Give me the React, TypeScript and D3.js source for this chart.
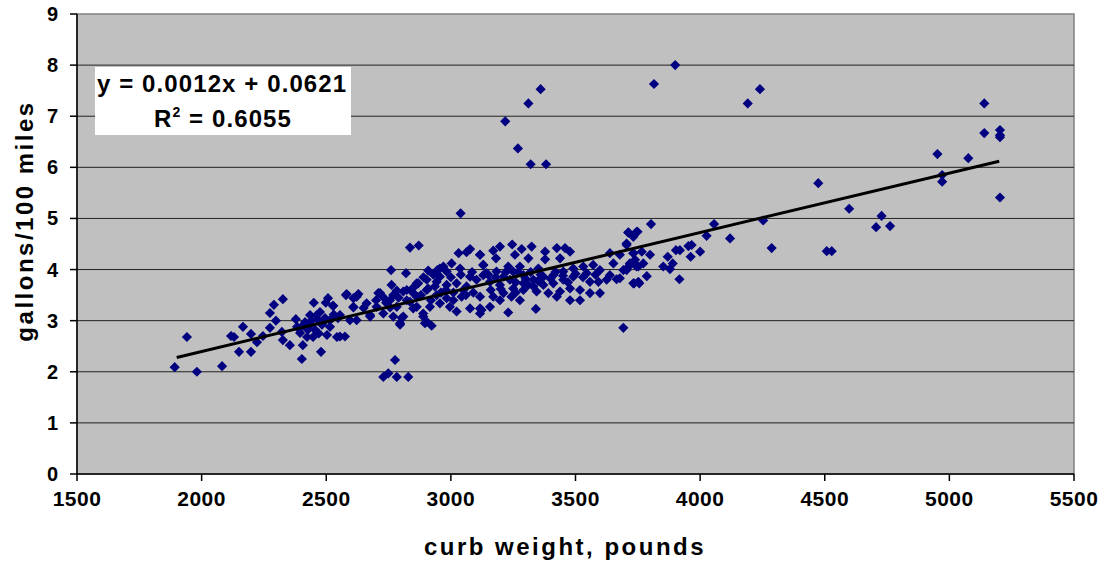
import React from "react";
import * as d3 from "d3";

// curb weight (lb) vs gallons per 100 miles
const outliers: [number, number][] = [
  [3900, 8.0], [3815, 7.63], [3360, 7.53], [3311, 7.25], [3218, 6.9], [3269, 6.37],
  [3320, 6.06], [3382, 6.06], [4191, 7.25], [4240, 7.53], [5140, 7.25], [5140, 6.67],
  [5203, 6.73], [5203, 6.63], [5203, 6.59], [4952, 6.26], [5076, 6.18], [4971, 5.85],
  [4971, 5.72], [5203, 5.41], [4474, 5.69], [4598, 5.19], [4728, 5.05], [4706, 4.83],
  [4762, 4.85], [4508, 4.36], [4528, 4.36], [4287, 4.42], [4253, 4.96], [4120, 4.61],
  [4056, 4.89], [4026, 4.66], [3039, 5.1], [3692, 2.86],
  [2729, 1.9], [2749, 1.97], [2776, 2.23], [2783, 1.9], [2829, 1.9],
];

const leftCluster: [number, number][] = [
  [1892, 2.09], [1941, 2.68], [1981, 2.0], [2082, 2.11], [2118, 2.7], [2130, 2.68],
  [2166, 2.88], [2150, 2.39], [2198, 2.74], [2198, 2.39], [2222, 2.58], [2246, 2.7],
  [2274, 2.86], [2274, 3.15], [2290, 3.31], [2326, 3.42], [2298, 3.0], [2322, 2.78],
  [2326, 2.62], [2354, 2.52], [2378, 3.03], [2402, 2.25], [2406, 2.52], [2426, 2.82],
  [2450, 3.35], [2498, 3.35], [2527, 3.29], [2475, 3.17], [2479, 2.39], [2503, 2.72],
  [2543, 2.68], [2447, 2.68], [2423, 2.68], [2395, 2.76], [2383, 2.88], [2435, 2.92],
  [2467, 3.01], [2495, 3.05], [2415, 2.97], [2455, 2.82], [2483, 2.92], [2515, 3.01],
  [2547, 3.05], [2507, 3.44], [2435, 3.11], [2515, 2.88], [2555, 2.69], [2575, 2.69],
  [2440, 3.0], [2460, 3.1], [2490, 2.98], [2530, 3.12], [2405, 2.9], [2470, 2.75],
];

const midCluster: [number, number][] = [
  [2836, 4.43], [2871, 4.47], [2760, 3.99], [2820, 3.93], [3031, 4.32], [3077, 4.4],
  [3117, 4.29], [3063, 4.34], [3003, 4.12], [2956, 4.02], [2909, 3.98], [3037, 4.02],
  [3130, 4.09], [2579, 3.5], [2622, 3.47], [2609, 3.27], [2528, 3.29], [2555, 3.11],
  [2709, 3.54], [2783, 3.59], [2823, 3.6], [2869, 3.73], [2903, 3.8], [2943, 3.76],
  [2983, 3.7], [3023, 3.73], [3063, 3.67], [3103, 3.8], [3130, 3.89], [2662, 3.34],
  [2676, 3.11], [2729, 3.14], [2769, 3.08], [2796, 2.92], [2803, 3.05], [2849, 3.24],
  [2889, 3.14], [2903, 2.98], [2923, 2.9], [2896, 2.95], [2916, 3.27], [2956, 3.34],
  [2996, 3.27], [3023, 3.18], [3077, 3.24], [3123, 3.21], [3117, 3.47], [3043, 3.47],
  [2983, 3.44], [2943, 3.5], [2756, 3.4], [2823, 3.4], [2863, 3.47], [2702, 3.27],
  [2595, 3.01], [2622, 3.01], [3077, 3.86], [2956, 3.86], [2983, 3.96], [2909, 3.63],
  [2849, 3.54], [2762, 3.7], [2582, 3.52], [2629, 3.52], [2609, 3.44], [2609, 3.26],
  [2716, 3.54], [2729, 3.46], [2769, 3.5], [2809, 3.57], [2863, 3.73], [2946, 3.99],
  [2970, 4.06], [2903, 3.6], [2936, 3.67], [2863, 3.27], [2889, 3.08], [2796, 2.95],
  [2809, 3.08], [2756, 3.26], [2783, 3.27], [2836, 3.37], [2676, 3.08], [3010, 3.55],
  [3050, 3.6], [3090, 3.55], [3000, 3.85], [3040, 3.9], [3085, 3.95], [2980, 3.6],
  [2880, 3.5], [2920, 3.4], [2960, 3.55], [3010, 3.4], [3060, 3.5], [2850, 3.65],
  [2890, 3.85], [2930, 3.9], [2790, 3.45], [2740, 3.35], [2700, 3.4], [2650, 3.25],
];

const rightCluster: [number, number][] = [
  [3197, 4.45], [3246, 4.49], [3284, 4.4], [3324, 4.45], [3170, 4.37], [3257, 4.29],
  [3181, 4.22], [3311, 4.22], [3378, 4.35], [3378, 4.2], [3425, 4.42], [3458, 4.42],
  [3478, 4.35], [3438, 4.22], [3130, 4.09], [3230, 4.06], [3277, 4.06], [3351, 4.02],
  [3638, 4.32], [3678, 4.29], [3712, 4.72], [3745, 4.74], [3705, 4.48], [3732, 4.32],
  [3652, 4.12], [3705, 3.99], [3665, 3.81], [3732, 3.73], [3752, 3.76], [3230, 3.16],
  [3341, 3.23], [3117, 3.24], [3117, 3.14], [3143, 3.93], [3183, 3.96], [3211, 3.86],
  [3250, 3.96], [3291, 3.89], [3157, 3.76], [3197, 3.7], [3237, 3.8], [3291, 3.73],
  [3331, 3.8], [3371, 3.86], [3411, 3.89], [3451, 3.96], [3491, 4.02], [3531, 4.06],
  [3571, 4.09], [3598, 3.99], [3545, 3.93], [3491, 3.86], [3451, 3.8], [3411, 3.73],
  [3371, 3.7], [3331, 3.67], [3291, 3.6], [3250, 3.63], [3211, 3.54], [3170, 3.47],
  [3243, 3.47], [3344, 3.57], [3391, 3.54], [3438, 3.57], [3478, 3.63], [3518, 3.6],
  [3558, 3.76], [3592, 3.76], [3625, 3.8], [3638, 3.89], [3157, 3.27], [3197, 3.4],
  [3277, 3.4], [3732, 4.64], [3718, 4.12], [3745, 4.06], [3117, 4.29], [3518, 3.4],
  [3558, 3.54], [3598, 3.54], [3478, 3.4], [3425, 3.47], [3160, 3.6], [3200, 3.62],
  [3260, 3.75], [3300, 3.82], [3350, 3.78], [3400, 3.82], [3450, 3.88], [3500, 3.92],
  [3180, 3.85], [3220, 3.95], [3270, 3.95], [3320, 3.95], [3150, 3.9], [3260, 3.55],
  [3310, 3.7], [3360, 3.9], [3420, 3.95], [3470, 3.75], [3530, 3.85], [3580, 3.9],
];

const farRight: [number, number][] = [
  [3803, 4.89], [3712, 4.73], [3749, 4.74], [3705, 4.51], [3903, 4.38], [3919, 4.38],
  [3953, 4.46], [3966, 4.48], [3962, 4.25], [4000, 4.35], [3870, 4.25], [3890, 4.12],
  [3852, 4.06], [3879, 4.01], [3917, 3.81], [3786, 3.87], [3735, 3.73], [3756, 3.73],
  [3799, 4.29], [3766, 4.35], [3732, 4.32], [3739, 4.19], [3772, 4.12], [3719, 4.09],
  [3692, 3.99], [3705, 4.02], [3678, 3.83], [3752, 4.06],
];

const trend: [number, number][] = [[1900, 2.28], [5200, 6.12]];
const xTicks = [1500, 2000, 2500, 3000, 3500, 4000, 4500, 5000, 5500];
const yTicks = [0, 1, 2, 3, 4, 5, 6, 7, 8, 9];
const equation = "y = 0.0012x + 0.0621";
const rSquared = "0.6055";

const font = "'Liberation Sans', Arial, sans-serif";

export default function App() {
  const x = d3.scaleLinear().domain([1500, 5500]).range([77, 1074]);
  const y = d3.scaleLinear().domain([0, 9]).range([474, 14]);
  const points = [...outliers, ...leftCluster, ...midCluster, ...rightCluster, ...farRight];
  const line = d3.line<[number, number]>().x((d) => x(d[0])).y((d) => y(d[1]));
  const diamond = d3.symbol().type(d3.symbolDiamond2).size(66)();

  return (
    <svg width={1110} height={564} style={{ position: "absolute", left: 0, top: 0 }} fontFamily={font}>
      <rect width={1110} height={564} fill="#fff" />
      <rect x={77} y={14} width={997} height={460} fill="#c0c0c0" stroke="#808080" strokeWidth={1.5} />
      {yTicks.slice(1, -1).map((t) => (
        <line key={t} x1={77} x2={1074} y1={y(t)} y2={y(t)} stroke="#222" strokeWidth={1} />
      ))}
      {/* axes */}
      <line x1={77} x2={77} y1={14} y2={474} stroke="#000" strokeWidth={1.5} />
      <line x1={77} x2={1074} y1={474} y2={474} stroke="#000" strokeWidth={1.5} />
      {yTicks.map((t) => (
        <g key={t}>
          <line x1={70} x2={77} y1={y(t)} y2={y(t)} stroke="#000" strokeWidth={1.5} />
          <text x={58} y={y(t) + 7} textAnchor="end" fontSize={20} fontWeight="bold">{t}</text>
        </g>
      ))}
      {xTicks.map((t) => (
        <g key={t}>
          <line x1={x(t)} x2={x(t)} y1={474} y2={481} stroke="#000" strokeWidth={1.5} />
          <text x={x(t)} y={506} textAnchor="middle" fontSize={21} fontWeight="bold" letterSpacing={0.5}>{t}</text>
        </g>
      ))}
      {points.map((d, i) => (
        <path key={i} d={diamond} transform={`translate(${x(d[0])},${y(d[1])})`} fill="#000080" />
      ))}
      <path d={line(trend) || ""} stroke="#000" strokeWidth={3} fill="none" />
      {/* trendline label */}
      <rect x={95} y={67} width={256} height={68} fill="#fff" />
      <text x={97} y={92} fontSize={24} fontWeight="bold" letterSpacing={1.1}>{equation}</text>
      <text x={223} y={127} textAnchor="middle" fontSize={24} fontWeight="bold" letterSpacing={1.1}>
        R<tspan dy={-10} fontSize={14}>2</tspan><tspan dy={10}> = {rSquared}</tspan>
      </text>
      <text x={565} y={555} textAnchor="middle" fontSize={24} fontWeight="bold" letterSpacing={2.5}>curb weight, pounds</text>
      <text transform="translate(33,221) rotate(-90)" textAnchor="middle" fontSize={24} fontWeight="bold" letterSpacing={2.5}>gallons/100 miles</text>
    </svg>
  );
}
